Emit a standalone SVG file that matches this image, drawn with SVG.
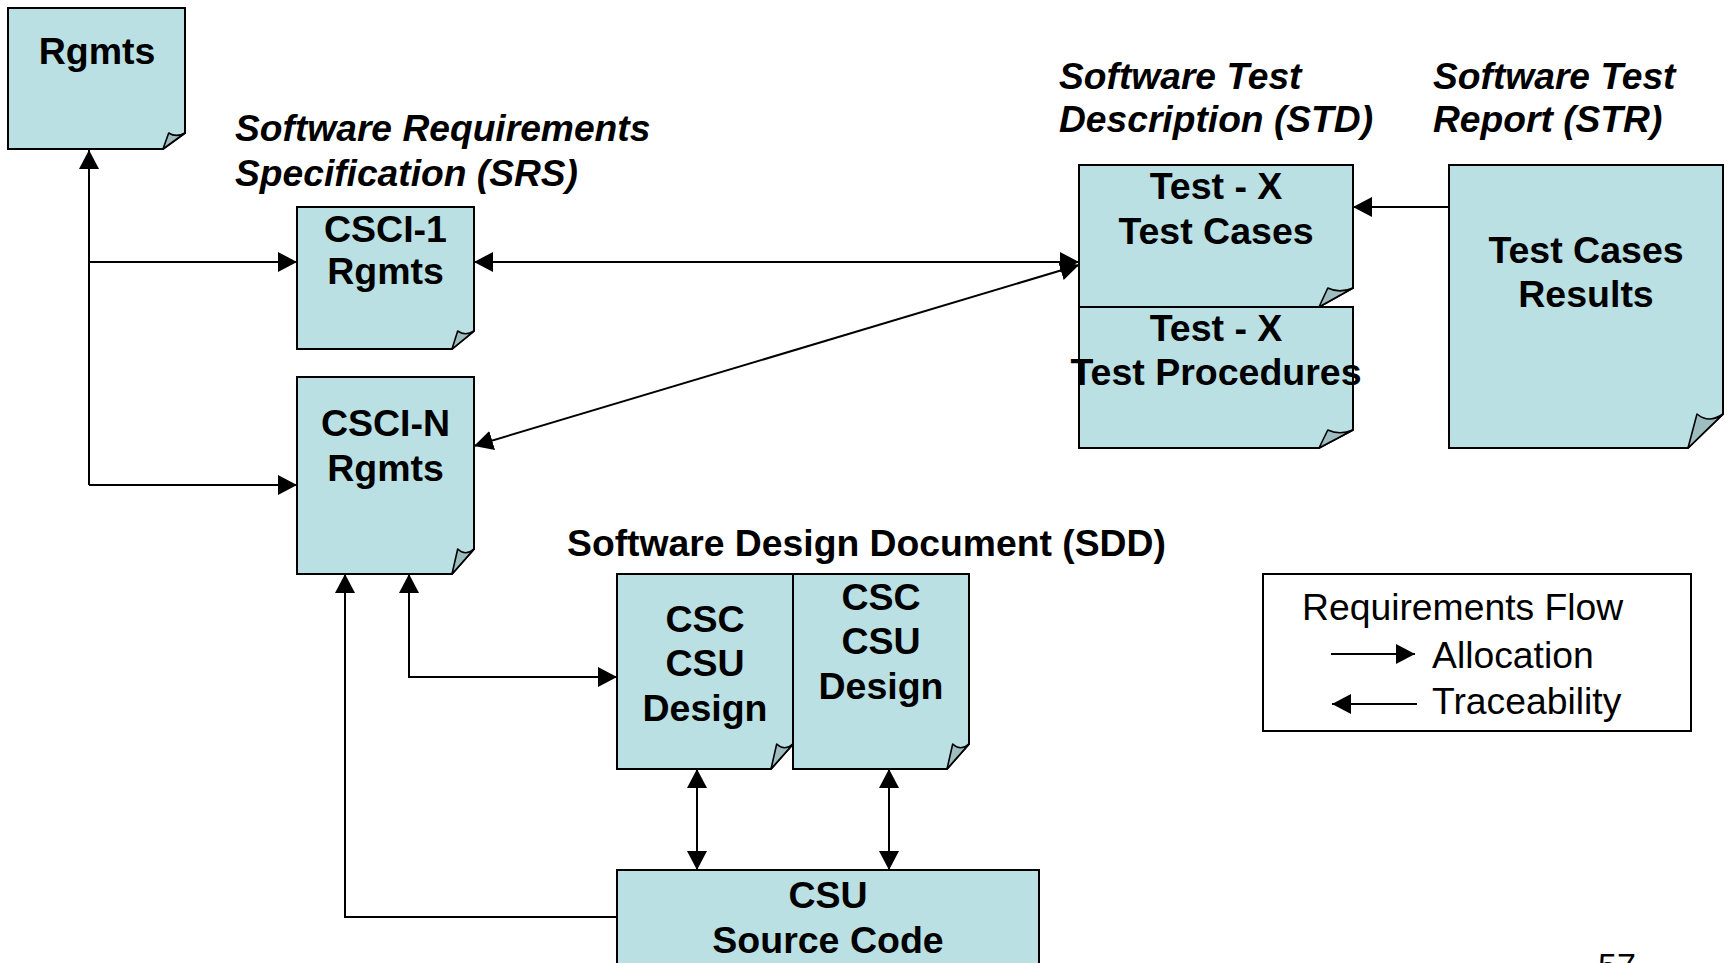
<svg xmlns="http://www.w3.org/2000/svg" width="1727" height="963" viewBox="0 0 1727 963">
<style>
.doc{fill:#BAE0E3;stroke:#000;stroke-width:2;stroke-linejoin:miter}
.fold{fill:#9DBDC0;stroke:#000;stroke-width:1.6;stroke-linejoin:round}
.t{font-family:"Liberation Sans",Arial,sans-serif;font-weight:bold;font-size:37.5px;fill:#000;text-anchor:middle}
.lbl{font-family:"Liberation Sans",Arial,sans-serif;font-weight:bold;font-style:italic;font-size:37.2px;fill:#000}
.sdd{font-family:"Liberation Sans",Arial,sans-serif;font-weight:bold;font-size:37.3px;fill:#000}
.leg{font-family:"Liberation Sans",Arial,sans-serif;font-size:37.3px;fill:#000}
.c{fill:none;stroke:#000;stroke-width:2}
</style>
<defs>
<marker id="ah" viewBox="0 0 19 20" markerWidth="19" markerHeight="20" refX="19" refY="10" orient="auto-start-reverse" markerUnits="userSpaceOnUse">
<path d="M0,0 L19,10 L0,20 Z" fill="#000"/>
</marker>
</defs>
<rect width="1727" height="963" fill="#fff"/>

<g id="labels">
<text class="lbl" x="235" y="141">Software Requirements</text>
<text class="lbl" x="235" y="186">Specification (SRS)</text>
<text class="lbl" x="1059" y="89">Software Test</text>
<text class="lbl" x="1059" y="132">Description (STD)</text>
<text class="lbl" x="1433" y="89">Software Test</text>
<text class="lbl" x="1433" y="132">Report (STR)</text>
<text class="sdd" x="567" y="556">Software Design Document (SDD)</text>
</g>

<g id="connectors">
<path class="c" d="M89,485 V150" marker-end="url(#ah)"/>
<path class="c" d="M89,262 H297" marker-end="url(#ah)"/>
<path class="c" d="M89,485 H297" marker-end="url(#ah)"/>
<path class="c" d="M474,262 H1079" marker-start="url(#ah)" marker-end="url(#ah)"/>
<path class="c" d="M474,446 L1079,265" marker-start="url(#ah)" marker-end="url(#ah)"/>
<path class="c" d="M1449,207 H1353" marker-end="url(#ah)"/>
<path class="c" d="M409,574 V677 H617" marker-start="url(#ah)" marker-end="url(#ah)"/>
<path class="c" d="M617,917 H345 V574" marker-end="url(#ah)"/>
<path class="c" d="M697,769 V870" marker-start="url(#ah)" marker-end="url(#ah)"/>
<path class="c" d="M889,769 V870" marker-start="url(#ah)" marker-end="url(#ah)"/>
</g>

<g id="rgmts">
<path class="doc" d="M8,8 H185 V133 L163,149 H8 Z"/>
<path class="fold" d="M163,149 L168.7,133 Q176.2,137.8 185,133 Z"/>
<text class="t" x="97" y="64">Rgmts</text>
</g>

<g id="csci1">
<path class="doc" d="M297,207 H474 V331 L452,349 H297 Z"/>
<path class="fold" d="M452,349 L457.7,331 Q465.2,336.4 474,331 Z"/>
<text class="t" x="385.5" y="242">CSCI-1</text>
<text class="t" x="385.5" y="284">Rgmts</text>
</g>

<g id="cscin">
<path class="doc" d="M297,377 H474 V549 L452,574 H297 Z"/>
<path class="fold" d="M452,574 L457.7,549 Q465.2,556.5 474,549 Z"/>
<text class="t" x="385.5" y="436">CSCI-N</text>
<text class="t" x="385.5" y="481">Rgmts</text>
</g>

<g id="testcases">
<path class="doc" d="M1079,165 H1353 V288 L1319,307 H1079 Z"/>
<path class="fold" d="M1319,307 L1327.8,288 Q1339.4,293.7 1353,288 Z"/>
<text class="t" x="1216" y="199">Test - X</text>
<text class="t" x="1216" y="244">Test Cases</text>
</g>

<g id="testprocedures">
<path class="doc" d="M1079,307 H1353 V430 L1319,448 H1079 Z"/>
<path class="fold" d="M1319,448 L1327.8,430 Q1339.4,435.4 1353,430 Z"/>
<text class="t" x="1216" y="341">Test - X</text>
<text class="t" x="1216" y="385">Test Procedures</text>
</g>

<g id="results">
<path class="doc" d="M1449,165 H1723 V414 L1688,448 H1449 Z"/>
<path class="fold" d="M1688,448 L1697,414 Q1709,424 1723,414 Z"/>
<text class="t" x="1586" y="263">Test Cases</text>
<text class="t" x="1586" y="307">Results</text>
</g>

<g id="csc1">
<path class="doc" d="M617,574 H793 V744 L771,769 H617 Z"/>
<path class="fold" d="M771,769 L776.7,744 Q784.2,751.5 793,744 Z"/>
<text class="t" x="705" y="632">CSC</text>
<text class="t" x="705" y="676">CSU</text>
<text class="t" x="705" y="721">Design</text>
</g>

<g id="csc2">
<path class="doc" d="M793,574 H969 V744 L947,769 H793 Z"/>
<path class="fold" d="M947,769 L952.7,744 Q960.2,751.5 969,744 Z"/>
<text class="t" x="881" y="610">CSC</text>
<text class="t" x="881" y="654">CSU</text>
<text class="t" x="881" y="699">Design</text>
</g>

<g id="csusource">
<rect class="doc" x="617" y="870" width="422" height="140"/>
<text class="t" x="828" y="908">CSU</text>
<text class="t" x="828" y="953">Source Code</text>
</g>

<g id="legend">
<rect x="1263" y="574" width="428" height="157" fill="#fff" stroke="#000" stroke-width="2"/>
<text class="leg" x="1302" y="620">Requirements Flow</text>
<path class="c" d="M1331,654 H1415" marker-end="url(#ah)"/>
<text class="leg" x="1432" y="668">Allocation</text>
<path class="c" d="M1417,704 H1332" marker-end="url(#ah)"/>
<text class="leg" x="1432" y="714">Traceability</text>
</g>

<text class="leg" x="1598" y="977" style="font-size:34px">57</text>
</svg>
